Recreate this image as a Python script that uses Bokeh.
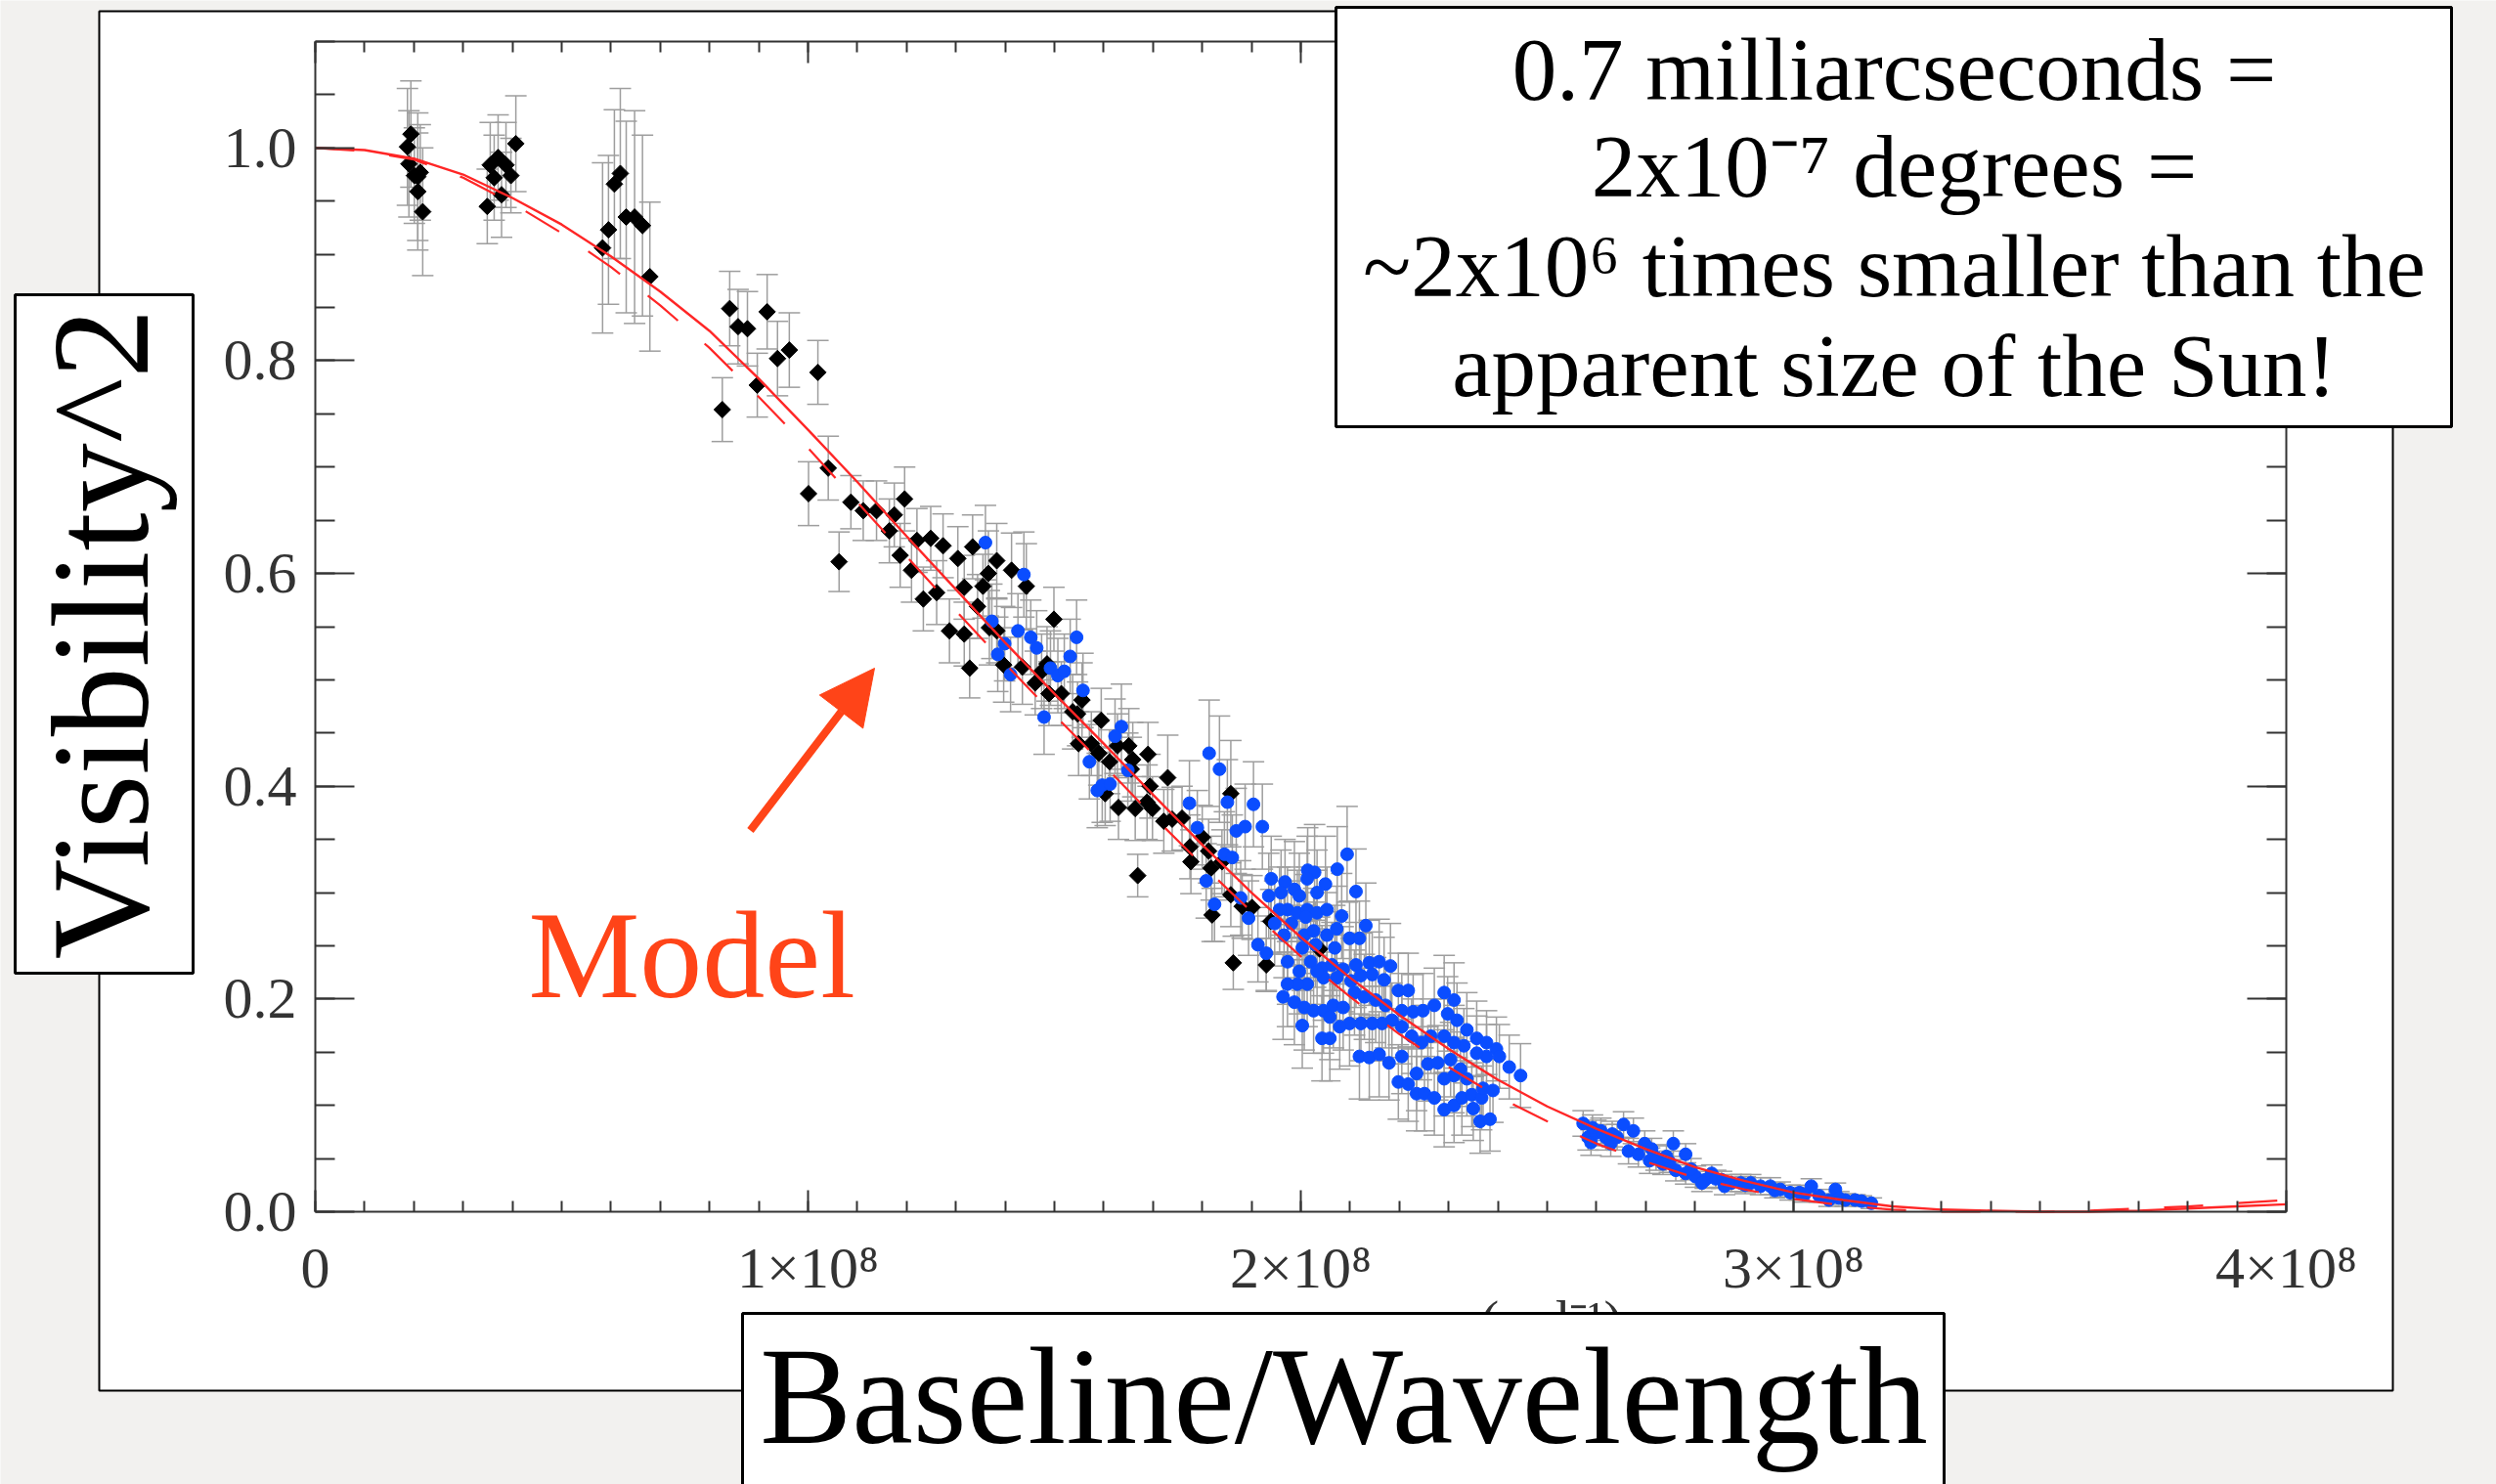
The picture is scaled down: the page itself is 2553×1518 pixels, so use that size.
import numpy as np
from bokeh.plotting import figure
from bokeh.models import (Range1d, LinearAxis, FixedTicker, CustomJSTickFormatter,
                          PrintfTickFormatter, ColumnDataSource, Whisker, TeeHead,
                          BoxAnnotation, Label, Arrow, NormalHead)
from bokeh.embed import file_html
from bokeh.resources import INLINE

# ---------------- data (baseline/wavelength in units of 1e8) ----------------
x_ticks = [0.0, 1e8, 2e8, 3e8, 4e8]
x_tick_labels = ["0", "1×10⁸", "2×10⁸", "3×10⁸", "4×10⁸"]
y_ticks = [0.0, 0.2, 0.4, 0.6, 0.8, 1.0]

black_x = [0.194, 0.187, 0.190, 0.201, 0.213, 0.208, 0.208, 0.218,
           0.349, 0.355, 0.363, 0.371, 0.378, 0.387, 0.397, 0.407,
           0.583, 0.595, 0.607, 0.619, 0.631, 0.648, 0.664, 0.679,
           0.841, 0.858, 0.877, 0.917, 0.826, 0.897, 0.938, 0.962, 1.020,
           1.001, 1.041, 1.063, 1.087, 1.112, 1.139, 1.165, 1.175, 1.196, 1.187, 1.210, 1.221, 1.234,
           1.249, 1.274, 1.304, 1.334, 1.366, 1.383, 1.413, 1.443, 1.317, 1.355, 1.261, 1.344, 1.368, 1.383, 1.287, 1.317,
           1.328, 1.397, 1.435, 1.461, 1.474, 1.485, 1.499, 1.489, 1.514, 1.537, 1.556, 1.547, 1.595,
           1.549, 1.575, 1.590, 1.612, 1.603, 1.628, 1.651, 1.659, 1.656, 1.669, 1.630, 1.664, 1.688, 1.699, 1.694, 1.690,
           1.730, 1.722, 1.739, 1.759, 1.775, 1.777, 1.800, 1.813, 1.818, 1.858, 1.858, 1.881, 1.901,
           1.840, 1.939, 1.820, 1.863, 1.930, 2.038]
black_y = [1.013, 1.001, 0.985, 0.974, 0.977, 0.973, 0.959, 0.940,
           0.945, 0.984, 0.972, 0.991, 0.956, 0.984, 0.974, 1.004,
           0.906, 0.923, 0.966, 0.976, 0.935, 0.935, 0.927, 0.879,
           0.849, 0.832, 0.830, 0.846, 0.754, 0.777, 0.802, 0.810, 0.789,
           0.675, 0.699, 0.611, 0.667, 0.659, 0.659, 0.640, 0.655, 0.670, 0.617, 0.603, 0.631, 0.576,
           0.633, 0.626, 0.614, 0.625, 0.600, 0.612, 0.603, 0.588, 0.587, 0.588, 0.582, 0.569, 0.549, 0.546, 0.546, 0.543,
           0.511, 0.514, 0.512, 0.497, 0.508, 0.515, 0.557, 0.487, 0.487, 0.470, 0.481, 0.468, 0.462,
           0.440, 0.440, 0.431, 0.423, 0.393, 0.438, 0.438, 0.425, 0.416, 0.316, 0.380, 0.379, 0.385, 0.379, 0.400, 0.430,
           0.408, 0.367, 0.369, 0.370, 0.343, 0.329, 0.352, 0.339, 0.323, 0.393, 0.298, 0.287, 0.286,
           0.329, 0.273, 0.279, 0.234, 0.232, 0.247]
black_err = [0.050, 0.055, 0.050, 0.045, 0.045, 0.060, 0.055, 0.060,
             0.035, 0.040, 0.040, 0.040, 0.040, 0.040, 0.035, 0.045,
             0.080, 0.070, 0.070, 0.080, 0.090, 0.100, 0.085, 0.070,
             0.035, 0.035, 0.035, 0.035, 0.030, 0.030, 0.035, 0.035, 0.030,
             0.030, 0.030, 0.028, 0.025, 0.028, 0.028, 0.030, 0.030, 0.030, 0.030, 0.030, 0.030, 0.030,
             0.030, 0.030, 0.030, 0.030, 0.040, 0.035, 0.035, 0.040, 0.030, 0.030, 0.030, 0.030, 0.035, 0.030, 0.030, 0.030,
             0.028, 0.035, 0.035, 0.030, 0.035, 0.035, 0.030, 0.030, 0.030, 0.035, 0.035, 0.030, 0.030,
             0.030, 0.030, 0.030, 0.030, 0.030, 0.030, 0.035, 0.035, 0.030, 0.020, 0.030, 0.030, 0.035, 0.030, 0.030, 0.030,
             0.040, 0.030, 0.030, 0.030, 0.030, 0.030, 0.030, 0.030, 0.030, 0.050, 0.030, 0.030, 0.030,
             0.030, 0.030, 0.025, 0.025, 0.025, 0.030]

blue_mid_x = [1.360, 1.438, 1.373, 1.426, 1.452, 1.464, 1.399, 1.385, 1.411, 1.545,
              1.532, 1.492, 1.507, 1.520, 1.558, 1.479, 1.571, 1.587, 1.597, 1.613,
              1.636, 1.623, 1.649, 1.814, 1.835, 1.851, 1.904, 1.922, 1.869, 1.887,
              1.790, 1.774, 1.845, 1.861, 1.808, 1.825, 1.878, 1.894, 1.913, 1.930]
blue_mid_y = [0.629, 0.599, 0.555, 0.546, 0.540, 0.530, 0.534, 0.524, 0.505, 0.540,
              0.522, 0.511, 0.504, 0.508, 0.490, 0.465, 0.423, 0.396, 0.401, 0.402,
              0.456, 0.447, 0.415, 0.431, 0.416, 0.385, 0.383, 0.362, 0.358, 0.362,
              0.361, 0.384, 0.336, 0.333, 0.311, 0.289, 0.295, 0.276, 0.251, 0.243]
blue_mid_err = [0.035, 0.040, 0.035, 0.035, 0.035, 0.035, 0.035, 0.035, 0.035, 0.035,
                0.035, 0.035, 0.035, 0.035, 0.035, 0.035, 0.035, 0.035, 0.035, 0.035,
                0.040, 0.035, 0.035, 0.050, 0.050, 0.040, 0.040, 0.040, 0.040, 0.040,
                0.035, 0.040, 0.040, 0.040, 0.035, 0.035, 0.035, 0.035, 0.035, 0.035]

blue_cl_x = [2.094, 2.074, 2.014, 2.028, 1.940, 2.013, 2.112, 2.050, 1.968, 2.033,
             1.935, 1.960, 1.987, 1.997, 1.973, 1.993, 2.013, 2.033, 2.053, 2.083,
             1.957, 2.010, 1.981, 1.947, 1.966, 2.007, 2.026, 2.053, 2.073, 2.099,
             2.119, 2.132, 2.069, 2.030, 2.003, 1.973, 1.997, 2.020, 2.043, 2.063,
             2.086, 2.112, 2.139, 2.159, 2.182, 2.169, 2.145, 2.122, 2.102, 2.073,
             2.046, 2.033, 2.013, 1.993, 1.973, 1.964, 1.987, 2.007, 2.026, 2.046,
             2.066, 2.086, 2.109, 2.129, 2.152, 2.172, 2.198, 2.218, 2.205, 2.228,
             2.248, 2.271, 2.291, 2.311, 2.298, 2.317, 2.337, 2.357, 2.377, 2.397,
             2.403, 2.423, 2.446, 2.377, 2.357, 2.331, 2.311, 2.291, 2.264, 2.245,
             2.225, 2.205, 2.185, 2.165, 2.145, 2.122, 2.099, 2.079, 2.059, 2.003,
             2.043, 2.059, 2.119, 2.139, 2.159, 2.179, 2.205, 2.198, 2.218, 2.235,
             2.258, 2.278, 2.304, 2.324, 2.337, 2.311, 2.291, 2.235, 2.251, 2.271,
             2.291, 2.311, 2.327, 2.347, 2.367, 2.350, 2.370, 2.390, 2.364, 2.384]
blue_cl_y = [0.336, 0.322, 0.321, 0.319, 0.313, 0.313, 0.301, 0.308, 0.310, 0.300,
             0.297, 0.300, 0.303, 0.297, 0.284, 0.281, 0.284, 0.281, 0.284, 0.278,
             0.284, 0.277, 0.271, 0.271, 0.260, 0.260, 0.264, 0.260, 0.266, 0.257,
             0.257, 0.269, 0.248, 0.251, 0.248, 0.235, 0.226, 0.235, 0.229, 0.232,
             0.228, 0.232, 0.234, 0.235, 0.231, 0.218, 0.223, 0.222, 0.217, 0.220,
             0.220, 0.226, 0.214, 0.214, 0.214, 0.202, 0.197, 0.192, 0.189, 0.189,
             0.194, 0.192, 0.206, 0.202, 0.199, 0.194, 0.208, 0.208, 0.189, 0.188,
             0.189, 0.194, 0.206, 0.199, 0.186, 0.180, 0.171, 0.163, 0.159, 0.153,
             0.146, 0.136, 0.128, 0.146, 0.149, 0.156, 0.159, 0.165, 0.165, 0.159,
             0.165, 0.174, 0.180, 0.177, 0.177, 0.177, 0.177, 0.174, 0.183, 0.175,
             0.163, 0.163, 0.146, 0.145, 0.148, 0.140, 0.146, 0.122, 0.120, 0.130,
             0.139, 0.140, 0.143, 0.134, 0.125, 0.128, 0.125, 0.111, 0.111, 0.107,
             0.096, 0.100, 0.107, 0.110, 0.107, 0.097, 0.116, 0.114, 0.085, 0.087]
blue_cl_err = [0.045, 0.040, 0.040, 0.045, 0.040, 0.040, 0.040, 0.045, 0.040, 0.040,
               0.040, 0.040, 0.045, 0.040, 0.040, 0.040, 0.040, 0.040, 0.040, 0.040,
               0.040, 0.040, 0.040, 0.040, 0.040, 0.040, 0.040, 0.040, 0.040, 0.035,
               0.035, 0.040, 0.040, 0.040, 0.040, 0.040, 0.040, 0.040, 0.040, 0.040,
               0.040, 0.040, 0.040, 0.040, 0.040, 0.040, 0.040, 0.040, 0.040, 0.040,
               0.040, 0.040, 0.040, 0.040, 0.040, 0.040, 0.040, 0.040, 0.040, 0.040,
               0.040, 0.040, 0.040, 0.040, 0.040, 0.040, 0.035, 0.035, 0.035, 0.035,
               0.035, 0.035, 0.035, 0.035, 0.035, 0.035, 0.035, 0.035, 0.030, 0.030,
               0.030, 0.030, 0.030, 0.030, 0.035, 0.035, 0.035, 0.035, 0.035, 0.035,
               0.035, 0.035, 0.035, 0.035, 0.035, 0.035, 0.040, 0.040, 0.040, 0.040,
               0.040, 0.040, 0.040, 0.040, 0.040, 0.035, 0.035, 0.035, 0.035, 0.035,
               0.035, 0.035, 0.035, 0.035, 0.035, 0.035, 0.035, 0.035, 0.035, 0.035,
               0.035, 0.035, 0.035, 0.030, 0.030, 0.030, 0.030, 0.030, 0.030, 0.030]

blue_tail_x = [2.573, 2.583, 2.589, 2.599, 2.609, 2.619, 2.629, 2.642, 2.655, 2.665,
               2.675, 2.685, 2.698, 2.708, 2.721, 2.735, 2.748, 2.756, 2.781, 2.761,
               2.781, 2.801, 2.821, 2.834, 2.854, 2.874, 2.893, 2.913, 2.933, 2.953,
               2.973, 2.993, 3.012, 3.036, 3.052, 3.072, 3.085, 3.105, 3.125, 3.138,
               3.158, 2.814, 2.860, 2.592, 2.632, 2.712, 2.742, 2.792, 2.842, 2.902,
               2.962, 3.022, 3.092]
blue_tail_y = [0.083, 0.070, 0.065, 0.074, 0.076, 0.070, 0.064, 0.070, 0.082, 0.057,
               0.076, 0.054, 0.064, 0.048, 0.051, 0.045, 0.047, 0.064, 0.054, 0.039,
               0.036, 0.033, 0.030, 0.036, 0.030, 0.027, 0.027, 0.027, 0.024, 0.024,
               0.021, 0.018, 0.018, 0.024, 0.015, 0.011, 0.021, 0.011, 0.011, 0.010,
               0.008, 0.027, 0.024, 0.079, 0.073, 0.059, 0.052, 0.040, 0.031, 0.025,
               0.020, 0.016, 0.013]
blue_tail_err = [0.012, 0.012, 0.012, 0.012, 0.012, 0.012, 0.012, 0.012, 0.012, 0.012,
                 0.012, 0.012, 0.012, 0.012, 0.012, 0.010, 0.010, 0.012, 0.010, 0.010,
                 0.010, 0.010, 0.008, 0.008, 0.008, 0.008, 0.008, 0.008, 0.008, 0.008,
                 0.007, 0.007, 0.007, 0.007, 0.006, 0.006, 0.006, 0.006, 0.005, 0.005,
                 0.005, 0.008, 0.008, 0.012, 0.012, 0.010, 0.010, 0.010, 0.008, 0.008,
                 0.007, 0.007, 0.006]

model_x = [0.0, 0.1, 0.2, 0.3, 0.4, 0.5, 0.6, 0.7, 0.8, 0.9,
           1.0, 1.1, 1.2, 1.3, 1.4, 1.5, 1.6, 1.7, 1.8, 1.9,
           2.0, 2.1, 2.2, 2.3, 2.4, 2.5, 2.6, 2.7, 2.8, 2.9,
           3.0, 3.1, 3.2, 3.3, 3.4, 3.5, 3.6, 3.7, 3.8, 3.9, 4.0]
model_solid = [1.000, 0.998, 0.990, 0.975, 0.953, 0.928, 0.898, 0.865, 0.828, 0.783,
               0.735, 0.686, 0.635, 0.585, 0.535, 0.487, 0.440, 0.392, 0.345, 0.300,
               0.258, 0.220, 0.185, 0.153, 0.124, 0.099, 0.078, 0.059, 0.042, 0.029,
               0.018, 0.011, 0.005, 0.002, 0.001, 0.000, 0.000, 0.001, 0.003, 0.005, 0.007]
model_dashed = [1.000, 0.997, 0.989, 0.972, 0.948, 0.920, 0.888, 0.852, 0.812, 0.766,
                0.718, 0.667, 0.616, 0.565, 0.515, 0.467, 0.420, 0.372, 0.326, 0.282,
                0.240, 0.202, 0.167, 0.136, 0.108, 0.085, 0.064, 0.047, 0.032, 0.021,
                0.012, 0.006, 0.002, 0.000, 0.000, 0.000, 0.001, 0.003, 0.005, 0.008, 0.011]

UNIT = 1e8

# ---------------- layout geometry (pixels) ----------------
W, H = 2553, 1518
FL, FR, FT, FB = 322, 2338, 42, 1239     # data area edges in canvas pixels
XMAX, YMAX = 4e8, 1.1
BASE_FIX = 0.34                           # em offset of the rendered alphabetic baseline


def px_x(px):
    return (px - FL) / (FR - FL) * XMAX


def px_y(py):
    return (FB - py) / (FB - FT) * YMAX


def base_y(py, size):
    return px_y(py - BASE_FIX * size)


SLIDE_BG = "#f2f1ef"
AX = "#333333"
ERR = "#9e9e9e"
BLUE = "#0a4dff"
RED = "#ff2626"
ORANGE = "#ff4418"
SERIF = "Liberation Serif"

# the frame fills the whole canvas; the data area is placed through the ranges
p = figure(width=W, height=H, title=None,
           x_range=Range1d(px_x(0), px_x(W)), y_range=Range1d(px_y(H), px_y(0)),
           x_axis_type=None, y_axis_type=None, output_backend="svg",
           toolbar_location=None, min_border=0,
           border_fill_color=SLIDE_BG, background_fill_color=SLIDE_BG,
           outline_line_color=None)

# outer white panel behind the chart
p.add_layout(BoxAnnotation(left=px_x(101), right=px_x(2447), top=px_y(11), bottom=px_y(1422),
                           fill_color="white", fill_alpha=1.0, line_color="black",
                           line_alpha=1.0, line_width=2, level="underlay"))

x_minor = list(np.arange(0, 4e8 + 1, 1e7))
y_minor = list(np.round(np.arange(0, 1.1001, 0.05), 2))
xticker = FixedTicker(ticks=x_ticks, minor_ticks=x_minor)
yticker = FixedTicker(ticks=y_ticks, minor_ticks=y_minor)

xfmt = CustomJSTickFormatter(args=dict(vals=x_ticks, labs=x_tick_labels), code="""
    for (let i = 0; i < vals.length; i++) { if (Math.abs(vals[i] - tick) < 1) return labs[i]; }
    return '';
""")
blank = CustomJSTickFormatter(code="return '';")


def axis(ticker, fmt, tin, tmin, show, loc, bounds):
    return LinearAxis(ticker=ticker, formatter=fmt if show else blank,
                      fixed_location=loc, bounds=bounds,
                      axis_line_color=AX, axis_line_width=2,
                      major_tick_in=tin, major_tick_out=0, minor_tick_in=tmin, minor_tick_out=0,
                      major_tick_line_color=AX, major_tick_line_width=2,
                      minor_tick_line_color=AX, minor_tick_line_width=2,
                      major_label_text_font=SERIF,
                      major_label_text_font_size="60px" if show else "0px",
                      major_label_text_color="#333333",
                      major_label_standoff=19 if show else 0)


p.add_layout(axis(yticker, PrintfTickFormatter(format="%.1f"), 40, 20, True, 0.0, (0, YMAX)), "left")
p.add_layout(axis(yticker, None, 40, 20, False, XMAX, (0, YMAX)), "right")
bottom_axis = axis(xticker, xfmt, 22, 11, True, 0.0, (0, XMAX))
bottom_axis.major_label_standoff = 24
p.add_layout(bottom_axis, "below")
p.add_layout(axis(xticker, None, 22, 11, False, YMAX, (0, XMAX)), "above")

# ---------------- data ----------------
bx = np.array(black_x) * UNIT
by = np.array(black_y)
be = np.array(black_err)
blx = np.array(blue_mid_x + blue_cl_x + blue_tail_x) * UNIT
bly = np.array(blue_mid_y + blue_cl_y + blue_tail_y)
ble = np.array(blue_mid_err + blue_cl_err + blue_tail_err)

src_black = ColumnDataSource(dict(x=bx, y=by, lo=by - be, hi=by + be))
src_blue = ColumnDataSource(dict(x=blx, y=bly, lo=bly - ble, hi=bly + ble))

for src in (src_black, src_blue):
    p.add_layout(Whisker(source=src, base="x", lower="lo", upper="hi",
                         line_color=ERR, line_width=1.5, level="underlay",
                         upper_head=TeeHead(size=22, line_color=ERR, line_width=1.5),
                         lower_head=TeeHead(size=22, line_color=ERR, line_width=1.5)))

p.scatter("x", "y", source=src_black, marker="square", size=12, angle=np.pi / 4,
          fill_color="black", line_color="black")
p.scatter("x", "y", source=src_blue, marker="circle", size=13,
          fill_color=BLUE, line_color=BLUE)

mx = np.array(model_x) * UNIT
p.line(mx, model_solid, line_color=RED, line_width=2.4)
p.line(mx, model_dashed, line_color=RED, line_width=2.2, line_dash="40 36")

# ---------------- annotations ----------------
p.add_layout(Label(x=px_x(1514), y=base_y(1370, 56), text="(rad⁻¹)", text_font=SERIF,
                   text_font_size="56px", text_color="#333333", text_baseline="alphabetic",
                   level="annotation"))

p.add_layout(Arrow(x_start=px_x(767), y_start=px_y(849), x_end=px_x(894), y_end=px_y(683),
                   line_color=ORANGE, line_width=8,
                   end=NormalHead(size=56, fill_color=ORANGE, line_color=ORANGE, line_width=1)))
p.add_layout(Label(x=px_x(540), y=base_y(1020, 128), text="Model", text_font=SERIF,
                   text_font_size="128px", text_color=ORANGE, text_baseline="alphabetic",
                   text_align="left"))

boxes = [(15, 197, 301, 995), (759, 1988, 1343, 1540), (1366, 2507, 7, 436)]
for l, r, t, b in boxes:
    p.add_layout(BoxAnnotation(left=px_x(l), right=px_x(r), top=px_y(t), bottom=px_y(b),
                               fill_color="white", fill_alpha=1.0, line_color="black",
                               line_alpha=1.0, line_width=3, level="overlay"))

p.add_layout(Label(x=px_x(102), y=px_y(648), text="Visibility^2", angle=np.pi / 2,
                   text_font=SERIF, text_font_size="142px", text_color="black",
                   text_align="center", text_baseline="middle", level="overlay"))
p.add_layout(Label(x=px_x(1374), y=base_y(1475, 141), text="Baseline/Wavelength",
                   text_font=SERIF, text_font_size="141px", text_color="black",
                   text_align="center", text_baseline="alphabetic", level="overlay"))

note_lines = ["0.7 milliarcseconds =", "2x10⁻⁷ degrees =",
              "~2x10⁶ times smaller than the", "apparent size of the Sun!"]
note_baselines = [102, 201, 303, 405]
for txt, yb in zip(note_lines, note_baselines):
    p.add_layout(Label(x=px_x(1937), y=base_y(yb, 91), text=txt, text_font=SERIF,
                       text_font_size="91px", text_color="black", text_align="center",
                       text_baseline="alphabetic", level="overlay"))

open("out.html", "w", encoding="utf-8").write(file_html(p, INLINE))
